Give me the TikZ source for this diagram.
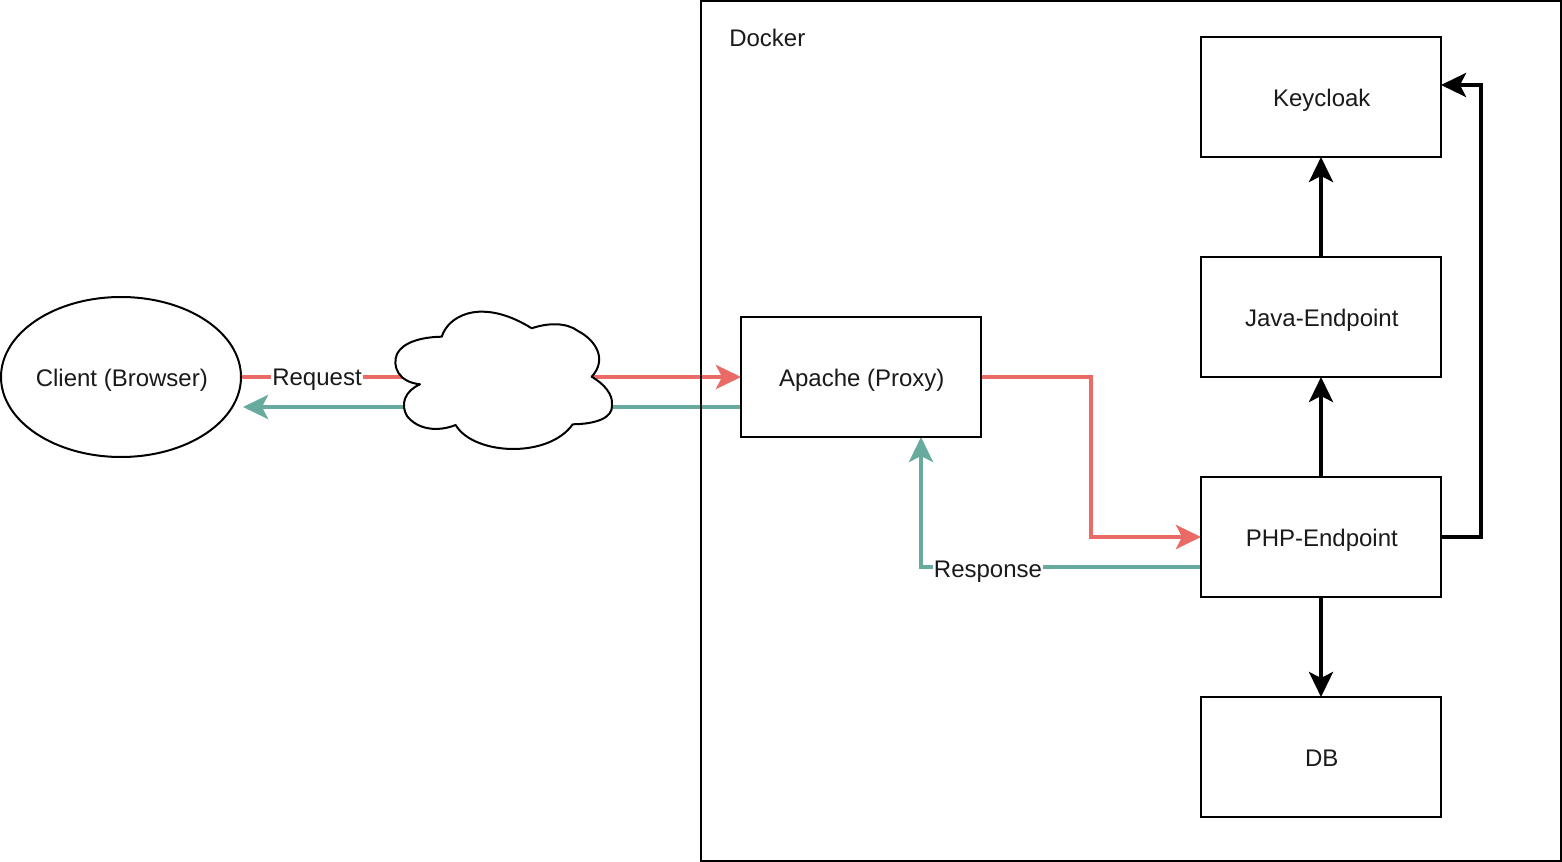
\documentclass[tikz,border=0pt]{standalone}
\usepackage{fontspec}
\setmainfont{Liberation Sans}
\usetikzlibrary{arrows.meta,backgrounds,positioning,shapes.geometric}
\definecolor{redline}{HTML}{EA6B66}
\definecolor{greenline}{HTML}{67AB9F}
\definecolor{inkt}{HTML}{1A1A1A}
\newcommand{\boxtext}[1]{\makebox[0pt]{\hspace{1.2pt}\raisebox{-7pt}[0pt][0pt]{#1}}}
\tikzset{
  x=0.75pt,y=-0.75pt,
  boxnode/.style={draw=black,line width=1.5pt,fill=white,minimum width=180pt,minimum height=90pt,inner sep=0pt,outer sep=0pt,text=inkt,font=\fontsize{18}{21}\selectfont},
  ellnode/.style={boxnode,ellipse,minimum width=180pt,minimum height=120pt},
  tipclassic/.style={-{Stealth[length=18.75pt,width=18pt,inset=4.5pt]}},
  redarrow/.style={draw=redline,line width=3pt,tipclassic},
  greenarrow/.style={draw=greenline,line width=3pt,tipclassic},
  blackarrow/.style={draw=black,line width=3pt,tipclassic},
  edgelabel/.style={fill=white,inner sep=1pt,text=inkt,font=\fontsize{18}{21}\selectfont},
  plainlabel/.style={inner sep=0pt,text=inkt,font=\fontsize{18}{21}\selectfont},
}
\begin{document}
\begin{tikzpicture}
\useasboundingbox (0,0) rectangle (1562,862);
\node[ellnode] (client) at (121,377) {\boxtext{Client (Browser)}};
\node[boxnode] (apache) at (861,377) {\boxtext{Apache (Proxy)}};
\node[boxnode] (keycloak) at (1321,97) {\boxtext{Keycloak}};
\node[boxnode] (java) at (1321,317) {\boxtext{Java-Endpoint}};
\node[boxnode] (php) at (1321,537) {\boxtext{PHP-Endpoint}};
\node[boxnode] (db) at (1321,757) {\boxtext{DB}};
\coordinate (dockerNW) at (701,1);
\coordinate (dockerSE) at (1561,861);
\node[plainlabel,anchor=west] (dockerlabel) at (729,38) {Docker};
\coordinate (clientback) at (243,407);
\coordinate (apacheback) at (741,407);
\coordinate (phpback) at (1201,567);
\coordinate (responsecorner) at (921,567);
\coordinate (apachein) at (921,437);
\coordinate (redknee1) at (1091,377);
\coordinate (redknee2) at (1091,537);
\coordinate (kcright1) at (1481,537);
\coordinate (kcright2) at (1481,85);
\coordinate (kcin) at (1441,85);
\begin{pgfonlayer}{background}
\draw[redarrow] (client.east) -- node[edgelabel,pos=0.152,yshift=-2.25pt] (reqlabel) {Request} (apache.west);
\draw[greenarrow] (apacheback) -- (clientback);
\draw[redarrow] (apache.east) -- (redknee1) -- (redknee2) -- (php.west);
\draw[greenarrow] (phpback) -- (responsecorner) -- (apachein);
\node[edgelabel] (resplabel) at (988,572) {Response};
\draw[blackarrow] (java.north) -- (keycloak.south);
\draw[blackarrow] (php.north) -- (java.south);
\draw[blackarrow] (php.south) -- (db.north);
\draw[blackarrow] (php.east) -- (kcright1) -- (kcright2) -- (kcin);
\draw[line width=1.5pt] (dockerNW) rectangle (dockerSE);
\end{pgfonlayer}
\draw[line width=1.5pt,fill=white,line join=round]
  (441.7,336.7) .. controls (448,318) and (468,311) .. (483.3,311.7) .. controls (502,312) and (520,321) .. (531.7,328.3)
  .. controls (547,323) and (566,322) .. (578,331) .. controls (597,341) and (607,360) .. (591.7,376.7)
  .. controls (604,384) and (613,394) .. (612,405) .. controls (613,418) and (596,424) .. (572.7,424.3)
  .. controls (561,441) and (537,449) .. (513.3,449) .. controls (490,449) and (465,441) .. (455.7,425)
  .. controls (438,432) and (418,430) .. (407,416) .. controls (400,404) and (405,391) .. (420,384.3)
  .. controls (398,382) and (392,366) .. (397,354) .. controls (403,342) and (422,337) .. (441.7,336.7) -- cycle;
\coordinate (cloud) at (503,380);
\end{tikzpicture}
\end{document}
